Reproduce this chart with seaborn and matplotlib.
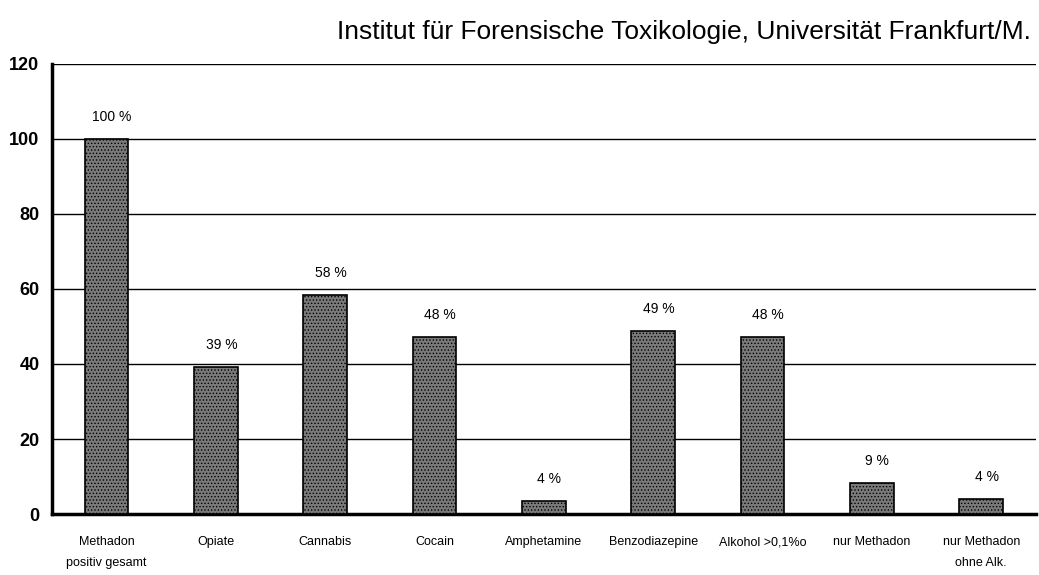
import numpy as np
import pandas as pd
import seaborn as sns
import matplotlib.pyplot as plt

# Werte
kategorien = ['Methadon\npositiv gesamt', 'Opiate', 'Cannabis', 'Cocain', 'Amphetamine',
              'Benzodiazepine', 'Alkohol >0,1%o', 'nur Methadon', 'nur Methadon\nohne Alk.']
werte = [100, 39.3, 58.5, 47.2, 3.5, 48.8, 47.2, 8.2, 4.0]
beschriftung = ['100 %', '39 %', '58 %', '48 %', '4 %', '49 %', '48 %', '9 %', '4 %']
y_ticks = [0, 20, 40, 60, 80, 100, 120]

df = pd.DataFrame({'kategorie': kategorien, 'wert': werte})

sns.set_style('white')
plt.rcParams['font.family'] = ['Liberation Sans Narrow', 'Liberation Sans', 'DejaVu Sans']
plt.rcParams['hatch.linewidth'] = 0.6
plt.rcParams['text.color'] = 'black'
plt.rcParams['xtick.color'] = 'black'
plt.rcParams['ytick.color'] = 'black'

fig = plt.figure(figsize=(10.39, 5.75), dpi=100)
ax = fig.add_axes([0.05, 0.106, 0.947, 0.783])

sns.barplot(data=df, x='kategorie', y='wert', color='#7a7a7a', width=0.4,
            edgecolor='black', linewidth=1.2, ax=ax, zorder=3)
for p in ax.patches:
    p.set_hatch('.....')

# Beschriftung über den Balken
for i, (w, t) in enumerate(zip(werte, beschriftung)):
    ax.text(i + 0.05, w + 4, t, ha='center', va='bottom', fontsize=10)

ax.set_ylim(0, 120)
ax.set_xlim(-0.5, len(kategorien) - 0.5)
ax.set_yticks(y_ticks)
ax.set_yticklabels([str(v) for v in y_ticks], fontsize=13, fontweight='bold')
for v in y_ticks[1:]:
    ax.axhline(v, color='black', linewidth=1.0, zorder=1)

ax.set_xticks(range(len(kategorien)))
ax.set_xticklabels(kategorien, fontsize=9, linespacing=2.0)
ax.tick_params(axis='x', which='major', length=0, pad=16)
ax.set_xticks(np.arange(0.5, len(kategorien) - 0.5, 1), minor=True)
ax.tick_params(axis='x', which='minor', length=6, width=2.5, direction='out')
ax.tick_params(axis='y', length=5, width=2.5, direction='out', pad=4)

ax.set_xlabel('')
ax.set_ylabel('')
for s in ['top', 'right']:
    ax.spines[s].set_visible(False)
ax.spines['left'].set_linewidth(2.5)
ax.spines['bottom'].set_linewidth(2.5)
ax.spines['left'].set_color('black')
ax.spines['bottom'].set_color('black')

fig.text(0.992, 0.945, 'Institut für Forensische Toxikologie, Universität Frankfurt/M.',
         ha='right', va='center', fontsize=19)

fig.savefig('out.png', dpi=100, facecolor='white')
